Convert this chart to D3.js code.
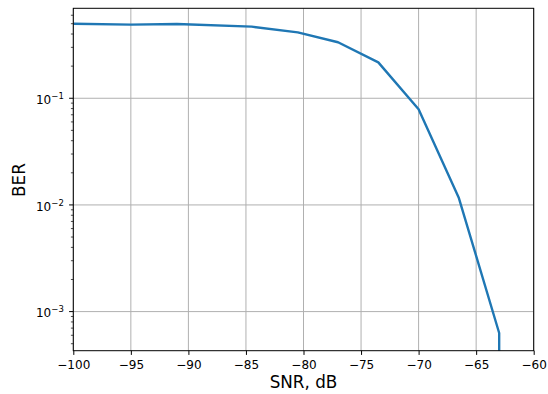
<!DOCTYPE html>
<html><head><meta charset="utf-8">
<script src="https://cdn.jsdelivr.net/npm/d3@7"></script>
<style>body{margin:0;background:#fff;} svg{display:block;font-family:"DejaVu Sans",sans-serif;}</style>
</head><body><svg id="c" width="548" height="394"></svg>
<script>
const snr = [-100, -95, -91, -84.5, -80.5, -77, -73.5, -70, -66.5, -63, -63];
const ber = [0.500, 0.490, 0.497, 0.469, 0.414, 0.335, 0.217, 0.079, 0.0116, 0.00063, 1e-12];
const xTicks = [-100, -95, -90, -85, -80, -75, -70, -65, -60];
const yTicks = [1e-1, 1e-2, 1e-3];
const yTickExp = ["\u22121", "\u22122", "\u22123"];

const m = {l: 73.3, r: 533.7, t: 8.3, b: 350.7};
const svg = d3.select("#c");
const x = d3.scaleLinear().domain([-100, -60]).range([m.l, m.r]);
const y = d3.scaleLog().domain([4.3e-4, 0.697]).range([m.b, m.t]);

svg.append("defs").append("clipPath").attr("id","clip").append("rect")
  .attr("x", m.l).attr("y", m.t).attr("width", m.r-m.l).attr("height", m.b-m.t);

// grid
const g = svg.append("g");
g.selectAll(".gx").data(xTicks).join("line")
  .attr("x1", d=>x(d)).attr("x2", d=>x(d)).attr("y1", m.t).attr("y2", m.b)
  .attr("stroke", "#b0b0b0").attr("stroke-width", 1);
g.selectAll(".gy").data(yTicks).join("line")
  .attr("y1", d=>y(d)).attr("y2", d=>y(d)).attr("x1", m.l).attr("x2", m.r)
  .attr("stroke", "#b0b0b0").attr("stroke-width", 1);

// line
const line = d3.line().x((d,i)=>x(snr[i])).y((d,i)=>y(ber[i]));
svg.append("path").datum(ber).attr("d", line).attr("clip-path","url(#clip)")
  .attr("fill","none").attr("stroke","#1f77b4").attr("stroke-width",2.4)
  .attr("stroke-linejoin","round").attr("stroke-linecap","butt");

// spines
svg.append("rect").attr("x", m.l).attr("y", m.t).attr("width", m.r-m.l).attr("height", m.b-m.t)
  .attr("fill","none").attr("stroke","#000").attr("stroke-width",1);

// x axis ticks
const xa = d3.axisBottom(x).tickValues(xTicks).tickSize(4.2).tickPadding(3.5)
  .tickFormat(d=>d3.format("d")(d).replace("-", "\u2212"));
const xg = svg.append("g").attr("transform", `translate(0,${m.b})`).call(xa);
xg.select(".domain").remove();
xg.selectAll("line").attr("stroke","#000").attr("stroke-width",1);
xg.selectAll("text").attr("font-size", 12).attr("fill","#000").attr("font-family","DejaVu Sans")
  .attr("dy", null).attr("y", 18.5);

// y minor ticks
const minor = [];
[-4,-3,-2,-1].forEach(e=>{ for (let k=2;k<=9;k++){ const v=k*Math.pow(10,e); if (v>=4.3e-4 && v<=0.697) minor.push(v);} });
svg.selectAll(".ym").data(minor).join("line")
  .attr("x1", m.l-2.4).attr("x2", m.l).attr("y1", d=>y(d)).attr("y2", d=>y(d))
  .attr("stroke","#000").attr("stroke-width",0.7);
// y major ticks
svg.selectAll(".yM").data(yTicks).join("line")
  .attr("x1", m.l-4.2).attr("x2", m.l).attr("y1", d=>y(d)).attr("y2", d=>y(d))
  .attr("stroke","#000").attr("stroke-width",1);
const yl = svg.selectAll(".yl").data(yTicks).join("text")
  .attr("x", m.l-9.5).attr("y", d=>y(d)+5.7).attr("text-anchor","end")
  .attr("font-size",12).attr("fill","#000");
yl.append("tspan").text("10");
yl.append("tspan").attr("dy",-5).attr("font-size",8.5).text((d,i)=>yTickExp[i]);

// axis labels
svg.append("text").attr("x", (m.l+m.r)/2).attr("y", 388).attr("text-anchor","middle")
  .attr("font-size", 16.8).attr("fill","#000").text("SNR, dB");
svg.append("text").attr("transform", `translate(25,180) rotate(-90)`).attr("text-anchor","middle")
  .attr("font-size", 16.8).attr("fill","#000").text("BER");
</script></body></html>
